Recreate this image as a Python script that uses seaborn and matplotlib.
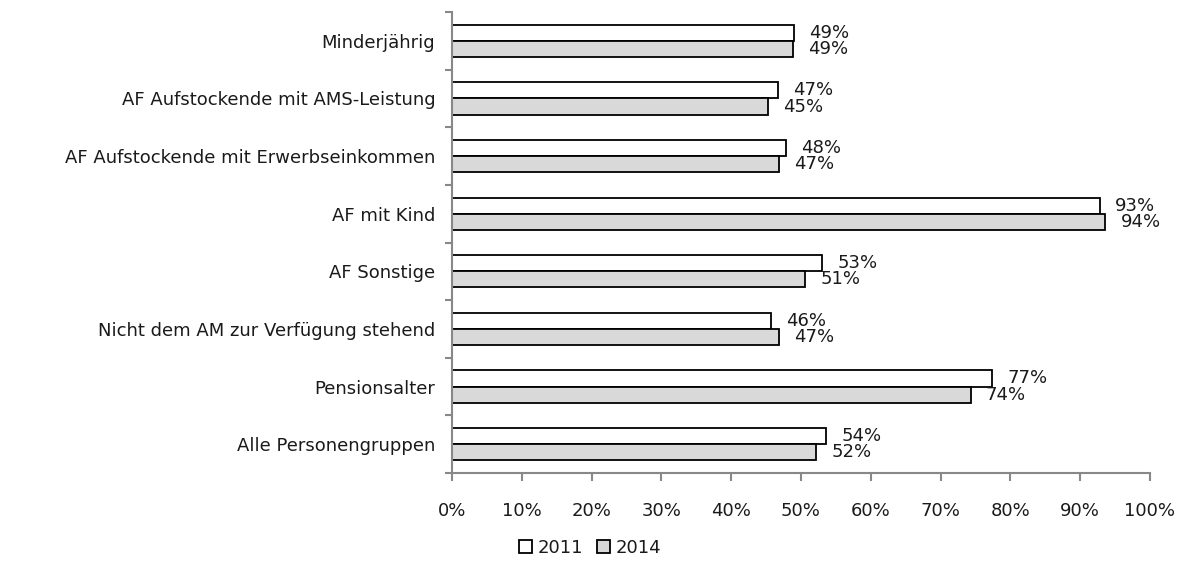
import numpy as np
import pandas as pd
import matplotlib
matplotlib.use("Agg")
import matplotlib.pyplot as plt
from matplotlib.ticker import FixedLocator, FuncFormatter
import seaborn as sns

# Categories (top to bottom) and values per year (in %)
CATEGORIES = [
    "Minderjährig",
    "AF Aufstockende mit AMS-Leistung",
    "AF Aufstockende mit Erwerbseinkommen",
    "AF mit Kind",
    "AF Sonstige",
    "Nicht dem AM zur Verfügung stehend",
    "Pensionsalter",
    "Alle Personengruppen",
]
VALUES_2011 = [49.0, 46.7, 47.8, 92.8, 53.0, 45.7, 77.4, 53.6]
VALUES_2014 = [48.8, 45.3, 46.8, 93.6, 50.6, 46.8, 74.3, 52.2]
YEARS = ["2011", "2014"]

df = pd.DataFrame(
    {
        "Kategorie": CATEGORIES * 2,
        "Wert": VALUES_2011 + VALUES_2014,
        "Jahr": [YEARS[0]] * len(CATEGORIES) + [YEARS[1]] * len(CATEGORIES),
    }
)

sns.set_theme(style="white")
plt.rcParams["font.family"] = ["DejaVu Sans"]
FS = 13
TXT = "#1a1a1a"
AXC = "#888888"

fig = plt.figure(figsize=(11.77, 5.62), dpi=100)
ax = fig.add_axes([452 / 1177, 1 - 473 / 562, 698 / 1177, 461 / 562])

sns.barplot(
    data=df,
    y="Kategorie",
    x="Wert",
    hue="Jahr",
    order=CATEGORIES,
    hue_order=YEARS,
    palette={"2011": "white", "2014": "#d9d9d9"},
    edgecolor="black",
    linewidth=1.3,
    width=0.56,
    orient="h",
    ax=ax,
)

# value labels
for cont in ax.containers:
    ax.bar_label(
        cont,
        labels=[f"{v:.0f}%" for v in cont.datavalues],
        padding=11,
        fontsize=FS,
        color=TXT,
    )

ax.set_xlim(0, 100)
ax.set_ylim(len(CATEGORIES) - 0.5, -0.5)
ax.set_xticks(np.arange(0, 101, 10))
ax.xaxis.set_major_formatter(FuncFormatter(lambda x, _: f"{x:.0f}%"))
ax.set_xlabel("")
ax.set_ylabel("")

# Excel-like ticks between categories
ax.yaxis.set_minor_locator(FixedLocator(np.arange(-0.5, len(CATEGORIES), 1.0)))
ax.tick_params(axis="y", which="major", length=0, pad=12, labelsize=FS, labelcolor=TXT)
ax.tick_params(axis="y", which="minor", length=5, width=1.5, color=AXC, direction="out", left=True)
ax.tick_params(axis="x", which="major", length=6, width=1.5, color=AXC, direction="out",
               bottom=True, labelsize=FS, pad=15, labelcolor=TXT)

for side in ["top", "right"]:
    ax.spines[side].set_visible(False)
for side in ["left", "bottom"]:
    ax.spines[side].set_color(AXC)
    ax.spines[side].set_linewidth(1.5)

ax.legend(
    loc="center",
    ncol=2,
    frameon=False,
    fontsize=FS,
    handlelength=0.7,
    handleheight=0.7,
    handletextpad=0.3,
    columnspacing=0.8,
)
leg = ax.get_legend()
leg.set_bbox_to_anchor((590 / 1177, 14 / 562), transform=fig.transFigure)
for t in leg.get_texts():
    t.set_color(TXT)

fig.savefig("out.png", dpi=100)
